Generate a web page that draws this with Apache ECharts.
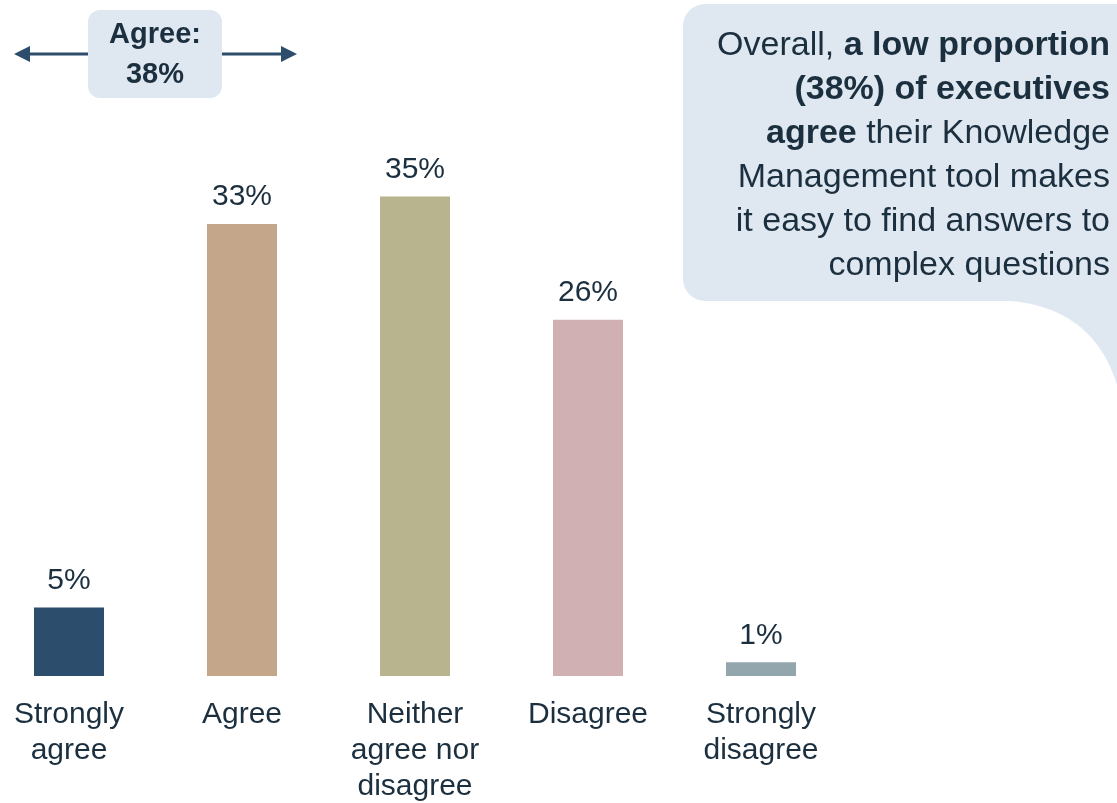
<!DOCTYPE html>
<html>
<head>
<meta charset="utf-8">
<script src="https://cdn.jsdelivr.net/npm/echarts@6/dist/echarts.min.js"></script>
<style>
  html, body { margin: 0; padding: 0; background: #fff; }
  #chart { width: 1117px; height: 803px; }
</style>
</head>
<body>
<div id="chart"></div>
<script>
// categories and values (percent of executives)
const categories = ['Strongly\nagree', 'Agree', 'Neither\nagree nor\ndisagree', 'Disagree', 'Strongly\ndisagree'];
const values = [5, 33, 35, 26, 1];
const barColors = ['#2c4d6b', '#c4a68a', '#b8b48e', '#d1b0b4', '#94a6ad'];

const textColor = '#1b2f3f';
const fontFamily = '"Liberation Sans", Arial, sans-serif';
const boxFill = '#dfe8f1';

// outline of the bubble's tail (a cubic curve sampled into points)
function tailPoints() {
    const p0 = [990, 300], p1 = [1060, 300], p2 = [1100, 330], p3 = [1117, 385];
    const pts = [];
    for (let i = 0; i <= 30; i++) {
        const t = i / 30, u = 1 - t;
        pts.push([
            u * u * u * p0[0] + 3 * u * u * t * p1[0] + 3 * u * t * t * p2[0] + t * t * t * p3[0],
            u * u * u * p0[1] + 3 * u * u * t * p1[1] + 3 * u * t * t * p2[1] + t * t * t * p3[1]
        ]);
    }
    pts.push([1117, 290], [990, 290]);
    return pts;
}

const chart = echarts.init(document.getElementById('chart'));

chart.setOption({
    animation: false,
    grid: {
        left: -17.5,
        width: 865,
        top: 128,
        bottom: 127,
        containLabel: false,
        outerBoundsMode: 'none'
    },
    xAxis: {
        type: 'category',
        data: categories,
        axisLine: { show: false },
        axisTick: { show: false },
        axisLabel: {
            color: textColor,
            fontFamily: fontFamily,
            fontSize: 30,
            lineHeight: 36,
            margin: 21,
            interval: 0
        }
    },
    yAxis: {
        type: 'value',
        min: 0,
        max: 40,
        show: false,
        splitLine: { show: false }
    },
    series: [{
        type: 'bar',
        barWidth: 70,
        data: values.map((v, i) => ({
            value: v,
            itemStyle: { color: barColors[i] }
        })),
        label: {
            show: true,
            position: 'top',
            distance: 12,
            formatter: '{c}%',
            color: textColor,
            fontFamily: fontFamily,
            fontSize: 30
        }
    }],
    graphic: [
        // arrows around the "Agree" box
        {
            type: 'line',
            shape: { x1: 24, y1: 54, x2: 90, y2: 54 },
            style: { stroke: '#2c4d6b', lineWidth: 3 }
        },
        {
            type: 'polygon',
            shape: { points: [[14, 54], [30, 46], [30, 62]] },
            style: { fill: '#2c4d6b' }
        },
        {
            type: 'line',
            shape: { x1: 220, y1: 54, x2: 286, y2: 54 },
            style: { stroke: '#2c4d6b', lineWidth: 3 }
        },
        {
            type: 'polygon',
            shape: { points: [[297, 54], [281, 46], [281, 62]] },
            style: { fill: '#2c4d6b' }
        },
        {
            type: 'rect',
            shape: { x: 88, y: 10, width: 134, height: 88, r: 12 },
            style: { fill: boxFill }
        },
        {
            type: 'text',
            x: 155,
            y: 55,
            style: {
                text: 'Agree:\n38%',
                align: 'center',
                verticalAlign: 'middle',
                fill: textColor,
                font: 'bold 29px ' + fontFamily,
                lineHeight: 40
            }
        },
        // speech bubble
        {
            type: 'rect',
            shape: { x: 683, y: 4, width: 470, height: 297, r: 22 },
            style: { fill: boxFill }
        },
        {
            type: 'polygon',
            shape: { points: tailPoints() },
            style: { fill: boxFill }
        },
        {
            type: 'text',
            x: 1110,
            y: 156,
            style: {
                text: '{n|Overall, }{b|a low proportion}\n{b|(38%) of executives}\n{b|agree}{n| their Knowledge}\n{n|Management tool makes}\n{n|it easy to find answers to}\n{n|complex questions}',
                align: 'right',
                verticalAlign: 'middle',
                fill: textColor,
                rich: {
                    n: { fontFamily: fontFamily, fontSize: 34, lineHeight: 44, color: textColor },
                    b: { fontFamily: fontFamily, fontSize: 34, fontWeight: 'bold', lineHeight: 44, color: textColor }
                }
            }
        }
    ]
});
</script>
</body>
</html>
